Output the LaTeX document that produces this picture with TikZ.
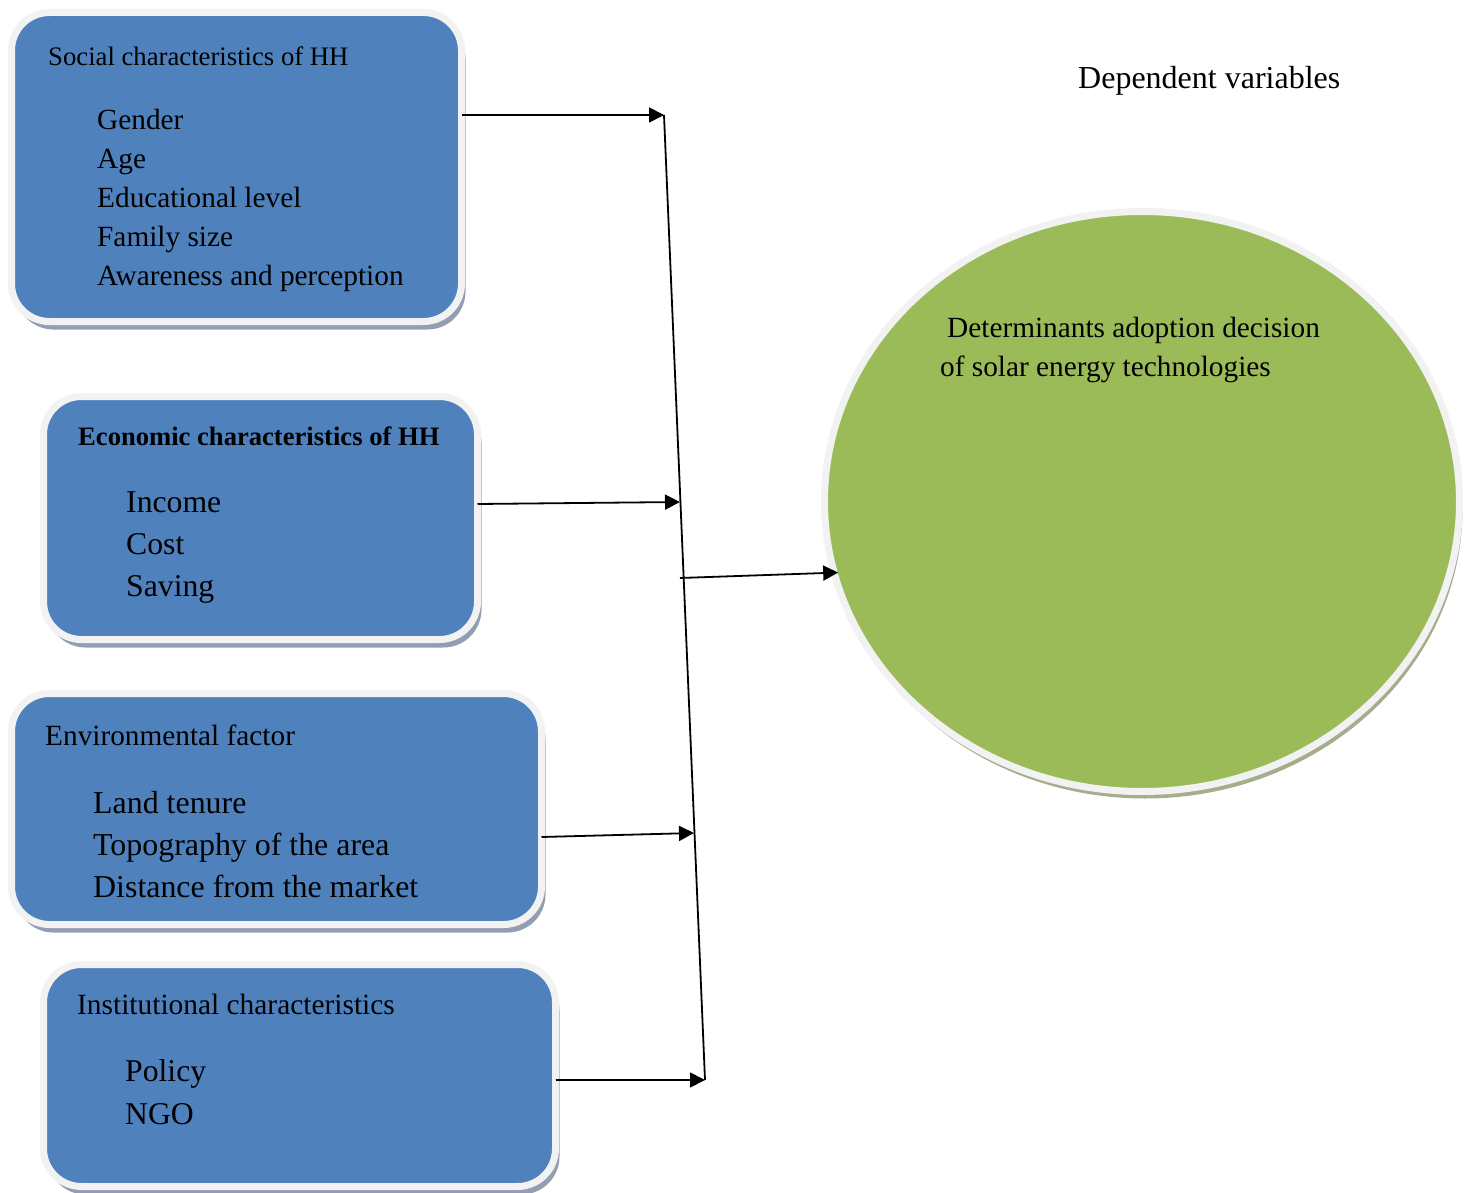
\documentclass[tikz,border=0pt]{standalone}
\usepackage{fontspec}
\setmainfont{Liberation Serif}
\usetikzlibrary{shapes.geometric,shadows,arrows.meta,calc}
\definecolor{boxblue}{HTML}{4F81BD}
\definecolor{ellgreen}{HTML}{9BBB59}
\definecolor{rimgray}{HTML}{F2F2F2}
\definecolor{boxshadow}{HTML}{929FB3}
\definecolor{ellshadow}{HTML}{A5AE8C}
\tikzset{
  factorbox/.style={rectangle, rounded corners=38pt, fill=boxblue, draw=rimgray,
    line width=7pt, outer sep=0pt, inner sep=0pt,
    drop shadow={shadow xshift=4pt, shadow yshift=-8pt, fill=boxshadow, opacity=1}},
  outcome/.style={ellipse, fill=ellgreen, draw=rimgray, line width=7pt,
    outer sep=0pt, inner sep=0pt,
    drop shadow={shadow xshift=3pt, shadow yshift=-7pt, fill=ellshadow, opacity=1}},
  txt/.style={inner sep=0pt, anchor=base west, text=black},
  link/.style={draw=black, line width=1.8pt},
  arr/.style={link, -{Triangle[length=15pt,width=15pt]}}
}
\begin{document}
\begin{tikzpicture}[x=1pt,y=-1pt]
\useasboundingbox (0,0) rectangle (1473,1193);

% boxes
\node[factorbox, minimum width=450pt, minimum height=309pt] (soc) at (236.5,167) {};
\node[factorbox, minimum width=434pt, minimum height=243pt] (eco) at (260.5,518) {};
\node[factorbox, minimum width=530pt, minimum height=231pt] (env) at (276.5,809) {};
\node[factorbox, minimum width=512pt, minimum height=222pt] (ins) at (299.5,1075.5) {};
\node[outcome, minimum width=635pt, minimum height=580pt] (ell) at (1142,501.5) {};

% social
\node[txt, font=\fontsize{26.7}{32}\selectfont] (socT) at (48,66) {Social characteristics of HH};
\foreach \t [count=\i] in {Gender,Age,Educational level,Family size,Awareness and perception}
  \node[txt, font=\fontsize{29.3}{36}\selectfont] (soc\i) at ({97},{130+39*(\i-1)}) {\t};

% economic
\node[txt, font=\fontsize{26.6}{32}\selectfont\bfseries] (ecoT) at (78,445) {Economic characteristics of HH};
\foreach \t [count=\i] in {Income,Cost,Saving}
  \node[txt, font=\fontsize{31.7}{38}\selectfont] (eco\i) at ({126},{512+42*(\i-1)}) {\t};

% environmental
\node[txt, font=\fontsize{29.3}{35}\selectfont] (envT) at (45,745) {Environmental factor};
\foreach \t [count=\i] in {Land tenure,Topography of the area,Distance from the market}
  \node[txt, font=\fontsize{31.9}{38}\selectfont] (env\i) at ({93},{813+42*(\i-1)}) {\t};

% institutional
\node[txt, font=\fontsize{29.4}{35}\selectfont] (insT) at (77,1014) {Institutional characteristics};
\foreach \t [count=\i] in {Policy,NGO}
  \node[txt, font=\fontsize{31.7}{38}\selectfont] (ins\i) at ({125},{1081+43*(\i-1)}) {\t};

% dependent
\node[txt, font=\fontsize{32}{38}\selectfont] (dep) at (1078,89) {Dependent variables};
\node[txt, font=\fontsize{29.3}{35}\selectfont] (ell1) at (947,337) {Determinants adoption decision};
\node[txt, font=\fontsize{29.3}{35}\selectfont] (ell2) at (940,376) {of solar energy technologies};

% connectors
\coordinate (j1) at (664,115);
\coordinate (j2) at (680,502);
\coordinate (j3) at (694,833);
\coordinate (j4) at (705,1080);
\coordinate (j5) at (680,578);
\draw[link] (j1) -- (j4);
\draw[arr] (soc.east |- j1) -- (j1);
\draw[arr] ([yshift=-2pt]eco.east |- j2) -- (j2);
\draw[arr] ([yshift=-4pt]env.east |- j3) -- (j3);
\draw[arr] (ins.east |- j4) -- (j4);
\draw[arr] (j5) -- ([xshift=4pt]ell.193);
\end{tikzpicture}
\end{document}
